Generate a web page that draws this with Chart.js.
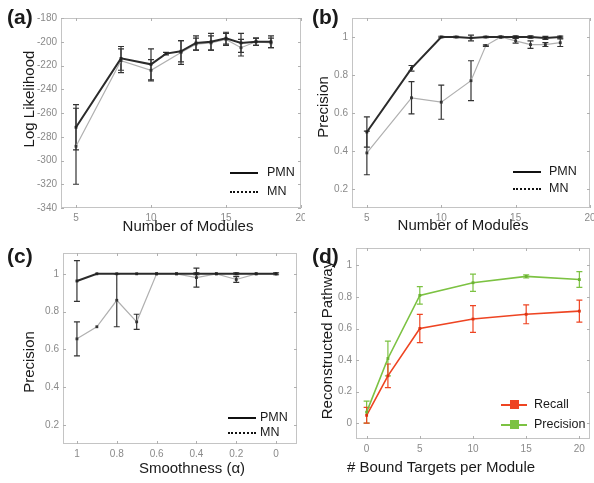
<!DOCTYPE html>
<html><head><meta charset="utf-8">
<script src="https://cdn.jsdelivr.net/npm/chart.js@4/dist/chart.umd.min.js"></script>
<style>
html,body{margin:0;padding:0;background:#fff;}
#wrap{position:relative;width:594px;height:483px;overflow:hidden;font-family:"Liberation Sans",Arial,sans-serif;color:#1a1a1a;}
canvas{position:absolute;}
.t{position:absolute;white-space:nowrap;font-size:15px;transform:translate(-50%,-50%);}
.v{transform:translate(-50%,-50%) rotate(-90deg);}
.p{position:absolute;font-weight:bold;font-size:21px;white-space:nowrap;}
.lg{position:absolute;font-size:12.5px;white-space:nowrap;}
.ln{position:absolute;height:0;}
</style></head><body>
<div id="wrap">
<canvas id="ca" width="305" height="240" style="left:0;top:0"></canvas>
<canvas id="cb" width="289" height="240" style="left:305px;top:0"></canvas>
<canvas id="cc" width="305" height="243" style="left:0;top:240px"></canvas>
<canvas id="cd" width="289" height="243" style="left:305px;top:240px"></canvas>

<div class="p" style="left:7px;top:5px">(a)</div>
<div class="p" style="left:312px;top:5px">(b)</div>
<div class="p" style="left:7px;top:244px">(c)</div>
<div class="p" style="left:312px;top:244px">(d)</div>

<div class="t v" style="left:28px;top:99px">Log Likelihood</div>
<div class="t" style="left:188px;top:225px">Number of Modules</div>
<div class="t v" style="left:322px;top:107px">Precision</div>
<div class="t" style="left:463px;top:224px">Number of Modules</div>
<div class="t v" style="left:28px;top:362px">Precision</div>
<div class="t" style="left:192px;top:467px">Smoothness (α)</div>
<div class="t v" style="left:326px;top:340px">Reconstructed Pathway</div>
<div class="t" style="left:441px;top:466px"># Bound Targets per Module</div>

<div class="ln" style="left:230px;top:172px;width:28px;border-top:2px solid #111"></div>
<div class="lg" style="left:267px;top:165px">PMN</div>
<div class="ln" style="left:230px;top:191px;width:28px;border-top:2px dotted #111"></div>
<div class="lg" style="left:267px;top:184px">MN</div>

<div class="ln" style="left:513px;top:171px;width:28px;border-top:2px solid #111"></div>
<div class="lg" style="left:549px;top:164px">PMN</div>
<div class="ln" style="left:513px;top:188px;width:28px;border-top:2px dotted #111"></div>
<div class="lg" style="left:549px;top:181px">MN</div>

<div class="ln" style="left:228px;top:417px;width:28px;border-top:2px solid #111"></div>
<div class="lg" style="left:260px;top:410px">PMN</div>
<div class="ln" style="left:228px;top:432px;width:28px;border-top:2px dotted #111"></div>
<div class="lg" style="left:260px;top:425px">MN</div>

<div class="ln" style="left:501px;top:404px;width:26px;border-top:2px solid #ee4422"></div>
<div class="ln" style="left:510px;top:400px;width:9px;height:9px;background:#ee4422"></div>
<div class="lg" style="left:534px;top:397px">Recall</div>
<div class="ln" style="left:501px;top:424px;width:26px;border-top:2px solid #7cc242"></div>
<div class="ln" style="left:510px;top:420px;width:9px;height:9px;background:#7cc242"></div>
<div class="lg" style="left:534px;top:417px">Precision</div>
</div>
<script>
// ---------- data ----------
const aX = [5, 8, 10, 11, 12, 13, 14, 15, 16, 17, 18];
const aPMN = [-272, -214, -219, -210, -208, -201, -200, -197, -201, -200, -200];
const aPMNErr = [19, 10, 13, 1, 9, 6, 7, 5, 8, 3, 5];
const aMN = [-288, -216, -224, null, -209, -202, -201, -198, -205, -200, -201];
const aMNErr = [32, 10, 9, 0, 10, 5, 6, 5, 7, 3, 4];
const aXTicks = [5, 10, 15, 20];
const aYTicks = [-340, -320, -300, -280, -260, -240, -220, -200, -180];

const bX = [5, 8, 10, 11, 12, 13, 14, 15, 16, 17, 18];
const bPMN = [0.50, 0.835, 1.0, 1.0, 0.995, 1.0, 1.0, 1.0, 1.0, 0.995, 1.0];
const bPMNErr = [0.08, 0.015, 0.004, 0.003, 0.015, 0.003, 0.003, 0.006, 0.006, 0.008, 0.005];
const bMN = [0.39, 0.68, 0.657, null, 0.77, 0.955, 1.0, 0.98, 0.96, 0.96, 0.97];
const bMNErr = [0.115, 0.085, 0.09, 0, 0.105, 0.004, 0.003, 0.012, 0.02, 0.01, 0.02];
const bXTicks = [5, 10, 15, 20];
const bYTicks = [0.2, 0.4, 0.6, 0.8, 1];

const cX = [1, 0.9, 0.8, 0.7, 0.6, 0.5, 0.4, 0.3, 0.2, 0.1, 0];
const cPMN = [0.962, 1, 1, 1, 1, 1, 1, 1, 1, 1, 1];
const cPMNErr = [0.108, 0, 0, 0, 0, 0, 0.005, 0, 0.005, 0, 0.005];
const cMN = [0.656, 0.72, 0.86, 0.746, 1, 1, 0.98, 1, 0.97, 1, 1];
const cMNErr = [0.09, 0, 0.14, 0.04, 0, 0, 0.05, 0, 0.015, 0, 0];
const cXTicks = [1, 0.8, 0.6, 0.4, 0.2, 0];
const cYTicks = [0.2, 0.4, 0.6, 0.8, 1];

const dX = [0, 2, 5, 10, 15, 20];
const dRecall = [0.05, 0.30, 0.60, 0.66, 0.69, 0.71];
const dRecallErr = [0.05, 0.075, 0.09, 0.085, 0.06, 0.07];
const dPrecision = [0.07, 0.41, 0.81, 0.89, 0.93, 0.91];
const dPrecisionErr = [0.07, 0.11, 0.055, 0.055, 0.01, 0.05];
const dXTicks = [0, 5, 10, 15, 20];
const dYTicks = [0, 0.2, 0.4, 0.6, 0.8, 1];

// ---------- plugins ----------
const frame = {
  id: 'frame',
  afterDatasetsDraw(chart) {
    const {ctx, chartArea: a, scales} = chart;
    ctx.save();
    ctx.strokeStyle = '#c4c4c4';
    ctx.lineWidth = 1;
    ctx.strokeRect(Math.round(a.left) + 0.5, Math.round(a.top) + 0.5, Math.round(a.right - a.left) - 1, Math.round(a.bottom - a.top) - 1);
    ctx.strokeStyle = '#b0b0b0';
    ctx.beginPath();
    scales.x.ticks.forEach(t => {
      const px = Math.round(scales.x.getPixelForValue(t.value)) + 0.5;
      ctx.moveTo(px, a.bottom); ctx.lineTo(px, a.bottom - 3);
      ctx.moveTo(px, a.top); ctx.lineTo(px, a.top + 3);
    });
    scales.y.ticks.forEach(t => {
      const py = Math.round(scales.y.getPixelForValue(t.value)) + 0.5;
      ctx.moveTo(a.left, py); ctx.lineTo(a.left + 3, py);
      ctx.moveTo(a.right, py); ctx.lineTo(a.right - 3, py);
    });
    ctx.stroke();
    ctx.restore();
  }
};
const errbars = {
  id: 'errbars',
  beforeDatasetsDraw(chart) {
    const list = chart.options.plugins.errbars.list || [];
    const {ctx, scales} = chart;
    ctx.save();
    list.forEach(eb => {
      const ds = chart.data.datasets[eb.ds];
      ctx.strokeStyle = eb.color;
      ctx.lineWidth = eb.width || 1.2;
      ctx.beginPath();
      ds.data.forEach((p, i) => {
        if (p.y === null || !eb.err[i]) return;
        const x = scales.x.getPixelForValue(p.x);
        const y1 = scales.y.getPixelForValue(p.y + eb.err[i]);
        const y2 = scales.y.getPixelForValue(p.y - eb.err[i]);
        ctx.moveTo(x, y1); ctx.lineTo(x, y2);
        ctx.moveTo(x - 3, y1); ctx.lineTo(x + 3, y1);
        ctx.moveTo(x - 3, y2); ctx.lineTo(x + 3, y2);
      });
      ctx.stroke();
    });
    ctx.restore();
  }
};

function pts(xs, ys) { return xs.map((x, i) => ({x: x, y: ys[i]})); }

function fmt(v) { return String(Math.round(v * 100) / 100); }

function makePanel(id, canvasRect, area, xr, yr, xTicks, yTicks, datasets, errs) {
  const [L, T, W, H] = canvasRect;
  const [aL, aT, aR, aB] = area;
  const tickFont = {family: '"Liberation Sans", Arial, sans-serif', size: 10};
  new Chart(document.getElementById(id), {
    type: 'line',
    data: {datasets: datasets},
    options: {
      responsive: false, animation: false, devicePixelRatio: 1,
      layout: {padding: {left: 0, top: aT - T, right: L + W - aR, bottom: 0}},
      plugins: {legend: {display: false}, tooltip: {enabled: false}, errbars: {list: errs}},
      scales: {
        x: {
          type: 'linear', min: xr[0], max: xr[1], reverse: !!xr[2],
          grid: {display: false, drawTicks: false}, border: {display: false},
          ticks: {font: tickFont, color: '#8a8a8a', padding: 4, maxRotation: 0, autoSkip: false, callback: v => fmt(v)},
          afterBuildTicks: s => { s.ticks = xTicks.map(v => ({value: v})); },
          afterFit: s => { s.height = T + H - aB; s.paddingLeft = 0; s.paddingRight = 0; s.paddingTop = 0; s.paddingBottom = 0; }
        },
        y: {
          type: 'linear', min: yr[0], max: yr[1],
          grid: {display: false, drawTicks: false}, border: {display: false},
          ticks: {font: tickFont, color: '#8a8a8a', padding: 4, autoSkip: false, callback: v => fmt(v)},
          afterBuildTicks: s => { s.ticks = yTicks.map(v => ({value: v})); },
          afterFit: s => { s.width = aL - L; s.paddingLeft = 0; s.paddingRight = 0; s.paddingTop = 0; s.paddingBottom = 0; }
        }
      }
    },
    plugins: [frame, errbars]
  });
}

function pmnDs(xs, ys) {
  return {data: pts(xs, ys), borderColor: '#2b2b2b', borderWidth: 2, pointStyle: 'rect', pointRadius: 2,
    pointBackgroundColor: '#222', pointBorderColor: '#222', pointBorderWidth: 0, tension: 0};
}
function mnDs(xs, ys) {
  return {data: pts(xs, ys), borderColor: '#b0b0b0', borderWidth: 1.2, pointStyle: 'rect', pointRadius: 2,
    pointBackgroundColor: '#333', pointBorderColor: '#333', pointBorderWidth: 0, tension: 0, spanGaps: true,
    segment: {
      borderDash: c => (c.p1DataIndex - c.p0DataIndex > 1 ? [2, 2] : undefined),
      borderColor: c => (c.p1DataIndex - c.p0DataIndex > 1 ? '#444' : undefined)
    }};
}

makePanel('ca', [0, 0, 305, 240], [61, 18, 301, 208], [4, 20], [-340, -180], aXTicks, aYTicks,
  [pmnDs(aX, aPMN), mnDs(aX, aMN)],
  [{ds: 0, err: aPMNErr, color: '#333'}, {ds: 1, err: aMNErr, color: '#333'}]);

makePanel('cb', [305, 0, 289, 240], [352, 18, 592, 208], [4, 20], [0.1, 1.1], bXTicks, bYTicks,
  [pmnDs(bX, bPMN), mnDs(bX, bMN)],
  [{ds: 0, err: bPMNErr, color: '#333'}, {ds: 1, err: bMNErr, color: '#333'}]);

makePanel('cc', [0, 240, 305, 243], [63, 253, 297, 444], [-0.105, 1.07, true], [0.1, 1.11], cXTicks, cYTicks,
  [pmnDs(cX, cPMN), mnDs(cX, cMN)],
  [{ds: 0, err: cPMNErr, color: '#333'}, {ds: 1, err: cMNErr, color: '#333'}]);

makePanel('cd', [305, 240, 289, 243], [356, 248, 593, 439], [-1, 21], [-0.1, 1.11], dXTicks, dYTicks,
  [
    {data: pts(dX, dPrecision), borderColor: '#7cc242', borderWidth: 1.6, pointStyle: 'rect', pointRadius: 2,
      pointBackgroundColor: '#6bb232', pointBorderWidth: 0, tension: 0},
    {data: pts(dX, dRecall), borderColor: '#ee4422', borderWidth: 1.6, pointStyle: 'rect', pointRadius: 2,
      pointBackgroundColor: '#dd3311', pointBorderWidth: 0, tension: 0}
  ],
  [{ds: 0, err: dPrecisionErr, color: '#7cc242'}, {ds: 1, err: dRecallErr, color: '#ee4422'}]);
</script>
</body></html>
